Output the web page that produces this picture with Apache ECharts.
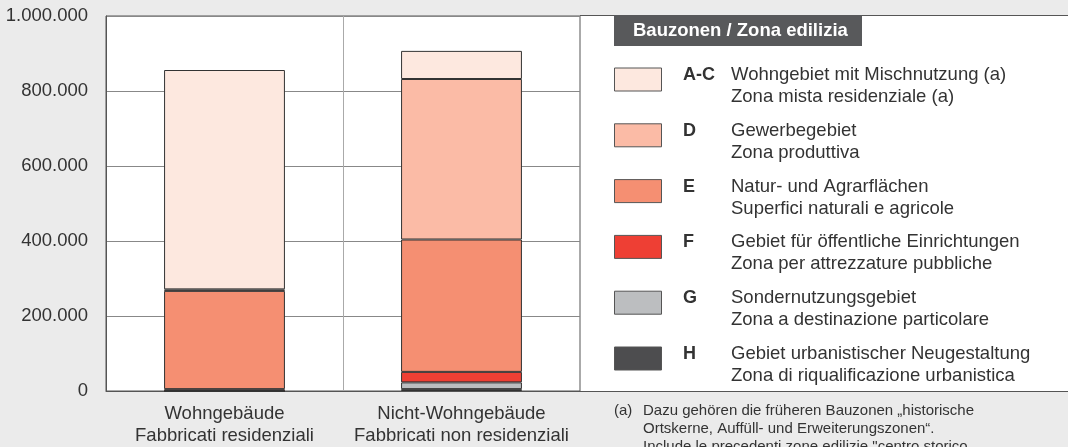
<!DOCTYPE html>
<html>
<head>
<meta charset="utf-8">
<script src="https://cdn.jsdelivr.net/npm/echarts@6/dist/echarts.min.js"></script>
<style>
    html, body { margin: 0; padding: 0; background: #ebebeb; }
    #main { width: 1068px; height: 447px; }
</style>
</head>
<body>
<div id="main"></div>
<script>
// 类目
var categories = ["Wohngebäude\nFabbricati residenziali", "Nicht-Wohngebäude\nFabbricati non residenziali"];
// 各区域数值 (从下往上堆叠)
var zoneH = [0, 5000];
var zoneG = [0, 18000];
var zoneF = [5000, 28000];
var zoneE = [262000, 353000];
var zoneD = [4000, 428000];
var zoneAC = [585000, 75000];
// 图例
var legendCodes = ["A-C", "D", "E", "F", "G", "H"];
var legendDe = ["Wohngebiet mit Mischnutzung (a)", "Gewerbegebiet", "Natur- und Agrarflächen",
    "Gebiet für öffentliche Einrichtungen", "Sondernutzungsgebiet", "Gebiet urbanistischer Neugestaltung"];
var legendIt = ["Zona mista residenziale (a)", "Zona produttiva", "Superfici naturali e agricole",
    "Zona per attrezzature pubbliche", "Zona a destinazione particolare", "Zona di riqualificazione urbanistica"];
var legendColors = ["#fde8df", "#fbbba6", "#f58f72", "#ee3f34", "#bcbec0", "#4d4d4f"];
var yTicks = [0, 200000, 400000, 600000, 800000, 1000000];

(function () {
    var font = "'Liberation Sans', Arial, sans-serif";
    var myChart = echarts.init(document.getElementById("main"));

    function fmt(v) {
        return String(v).replace(/\B(?=(\d{3})+(?!\d))/g, ".");
    }

    // 堆叠柱子
    var seriesData = [zoneH, zoneG, zoneF, zoneE, zoneD, zoneAC];
    var colorIdx = [5, 4, 3, 2, 1, 0];
    var series = seriesData.map(function (d, i) {
        return {
            name: legendCodes[colorIdx[i]],
            type: "bar",
            stack: "total",
            barWidth: "51%",
            data: d,
            itemStyle: {
                color: legendColors[colorIdx[i]],
                borderColor: "#333",
                borderWidth: 1
            }
        };
    });

    // 右侧图例区域
    var graphics = [
        { type: "rect", shape: { x: 580, y: 15, width: 488, height: 377 }, style: { fill: "#fff" }, z: 0 },
        { type: "line", shape: { x1: 580, y1: 15.5, x2: 1068, y2: 15.5 }, style: { stroke: "#555", lineWidth: 1 }, z: 1 },
        { type: "line", shape: { x1: 580, y1: 391.5, x2: 1068, y2: 391.5 }, style: { stroke: "#555", lineWidth: 1 }, z: 1 },
        { type: "rect", shape: { x: 614, y: 15, width: 248, height: 31 }, style: { fill: "#58595b" }, z: 2 },
        { type: "text", x: 633, y: 31, style: { text: "Bauzonen / Zona edilizia", fill: "#fff", font: "bold 18.5px " + font, verticalAlign: "middle" }, z: 3 }
    ];
    legendCodes.forEach(function (code, i) {
        var y = 75 + i * 55.8;
        graphics.push({ type: "rect", shape: { x: 614.5, y: y - 7, width: 47, height: 23 }, style: { fill: legendColors[i], stroke: "#555", lineWidth: 1 }, z: 2 });
        graphics.push({ type: "text", x: 683, y: y, style: { text: code, fill: "#333", font: "bold 18px " + font, verticalAlign: "middle" }, z: 2 });
        graphics.push({ type: "text", x: 731, y: y, style: { text: legendDe[i], fill: "#333", font: "18.5px " + font, verticalAlign: "middle" }, z: 2 });
        graphics.push({ type: "text", x: 731, y: y + 22, style: { text: legendIt[i], fill: "#333", font: "18.5px " + font, verticalAlign: "middle" }, z: 2 });
    });
    // 注释
    graphics.push({ type: "text", x: 614, y: 411, style: { text: "(a)", fill: "#333", font: "15px " + font, verticalAlign: "middle" }, z: 2 });
    graphics.push({ type: "text", x: 643, y: 411, style: { text: "Dazu gehören die früheren Bauzonen „historische", fill: "#333", font: "15px " + font, verticalAlign: "middle" }, z: 2 });
    graphics.push({ type: "text", x: 643, y: 429, style: { text: "Ortskerne, Auffüll- und Erweiterungszonen“.", fill: "#333", font: "15px " + font, verticalAlign: "middle" }, z: 2 });
    graphics.push({ type: "text", x: 643, y: 447, style: { text: "Include le precedenti zone edilizie \"centro storico", fill: "#333", font: "15px " + font, verticalAlign: "middle" }, z: 2 });

    var option = {
        backgroundColor: "#ebebeb",
        animation: false,
        textStyle: { fontFamily: font },
        grid: {
            left: 106,
            right: 488,
            top: 16,
            bottom: 55,
            show: true,
            backgroundColor: "#fff",
            borderColor: "#555",
            borderWidth: 1
        },
        xAxis: {
            type: "category",
            data: categories,
            axisTick: { show: false },
            axisLine: { lineStyle: { color: "#555" } },
            splitLine: { show: true, lineStyle: { color: "#aaa" } },
            axisLabel: {
                interval: 0,
                color: "#333",
                fontSize: 18.5,
                lineHeight: 22,
                margin: 12,
                fontFamily: font
            }
        },
        yAxis: {
            type: "value",
            min: yTicks[0],
            max: yTicks[yTicks.length - 1],
            interval: yTicks[1] - yTicks[0],
            axisLine: { show: true, lineStyle: { color: "#555" } },
            axisTick: { show: false },
            splitLine: { lineStyle: { color: "#888" } },
            axisLabel: {
                color: "#333",
                fontSize: 18.5,
                margin: 18,
                fontFamily: font,
                formatter: fmt
            }
        },
        graphic: graphics,
        series: series
    };

    myChart.setOption(option);
})();
</script>
</body>
</html>
